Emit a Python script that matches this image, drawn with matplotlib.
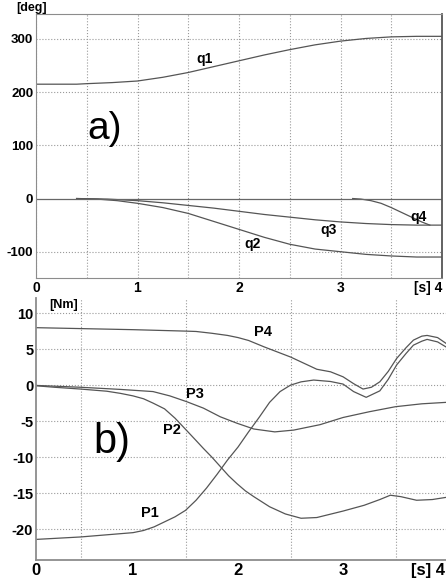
import numpy as np
import matplotlib.pyplot as plt

plt.rcParams['font.family'] = ['Liberation Sans', 'DejaVu Sans']

# --- a) joint angles [deg]
q1_t = [0, 0.4, 0.5, 0.75, 1.0, 1.25, 1.5, 1.75, 2.0, 2.25, 2.5, 2.75, 3.0, 3.25, 3.5, 3.75, 4.0]
q1 = [215, 215, 216, 218, 221, 228, 237, 248, 259, 270, 280, 289, 296, 301, 304, 305, 305]

q2_t = [0.4, 0.6, 0.8, 1.0, 1.25, 1.5, 1.75, 2.0, 2.25, 2.5, 2.75, 3.0, 3.25, 3.5, 3.75, 4.0]
q2 = [0, -1, -4, -9, -17, -28, -43, -58, -73, -86, -95, -100, -105, -108, -110, -110]

q3_t = [0.4, 0.7, 1.0, 1.25, 1.5, 1.75, 2.0, 2.25, 2.5, 2.75, 3.0, 3.25, 3.5, 3.75, 4.0]
q3 = [0, -1, -4, -8, -13, -18, -24, -30, -35, -40, -44, -47, -49, -50, -50]

q4_t = [3.12, 3.2, 3.3, 3.4, 3.5, 3.6, 3.7, 3.8, 3.88]
q4 = [0, -1, -4, -9, -17, -26, -35, -44, -50]

# --- b) torques [Nm]
p1_t = [0, 0.5, 1.0, 1.1, 1.2, 1.3, 1.4, 1.5, 1.6, 1.7, 1.8, 1.9, 2.0, 2.1, 2.2, 2.3, 2.4, 2.5,
        2.6, 2.72, 2.88, 3.0, 3.1, 3.22, 3.35, 3.43, 3.51, 3.6, 3.67, 3.75, 3.8, 3.9, 3.98]
p1 = [-21.5, -21.1, -20.5, -20.2, -19.7, -19.0, -18.3, -17.4, -16.0, -14.3, -12.4, -10.4, -8.6,
      -6.5, -4.5, -2.4, -0.9, 0.0, 0.45, 0.7, 0.5, 0.14, -0.9, -1.7, -0.8, 0.8, 2.8, 4.4, 5.55,
      6.1, 6.35, 6.0, 5.3]

p2_t = [0, 0.25, 0.5, 0.75, 0.88, 1.0, 1.1, 1.19, 1.3, 1.4, 1.51, 1.6, 1.67, 1.75, 1.83, 1.91,
        1.99, 2.07, 2.15, 2.3, 2.45, 2.6, 2.75, 3.0, 3.2, 3.35, 3.45, 3.55, 3.7, 3.85, 3.98]
p2 = [0, -0.3, -0.55, -0.85, -1.15, -1.5, -1.9, -2.5, -3.3, -4.6, -6.3, -7.7, -8.8, -10.0,
      -11.3, -12.6, -13.7, -14.7, -15.5, -16.9, -17.9, -18.5, -18.4, -17.5, -16.7, -15.9,
      -15.3, -15.5, -16.0, -15.9, -15.6]

p3_t = [0, 0.5, 0.88, 1.19, 1.35, 1.51, 1.67, 1.83, 1.99, 2.15, 2.35, 2.53, 2.78, 3.0, 3.25,
        3.5, 3.75, 3.98]
p3 = [0, -0.3, -0.6, -0.9, -1.5, -2.3, -3.2, -4.4, -5.3, -6.1, -6.5, -6.25, -5.5, -4.5, -3.7,
      -3.0, -2.6, -2.4]

p4_t = [0, 0.5, 1.0, 1.5, 1.6, 1.75, 1.9, 2.0, 2.1, 2.25, 2.5, 2.75, 2.88, 3.0, 3.1, 3.19,
        3.27, 3.35, 3.43, 3.51, 3.6, 3.67, 3.75, 3.8, 3.9, 3.98]
p4 = [8.0, 7.85, 7.7, 7.5, 7.45, 7.2, 6.9, 6.6, 6.2, 5.3, 3.9, 2.2, 1.85, 1.15, 0.2, -0.55,
      -0.3, 0.46, 1.9, 3.7, 5.2, 6.25, 6.8, 6.9, 6.6, 5.8]

line_c = '#555555'
grid_c = '#9a9a9a'
spine_c = '#8c8c8c'

fig = plt.figure(figsize=(4.46, 5.8), dpi=100)

# ---------------- top plot
ax1 = fig.add_axes([36/446, 301.7/580, 406/446, 264.3/580])
for t, v in [(q1_t, q1), (q2_t, q2), (q3_t, q3), (q4_t, q4)]:
    ax1.plot(t, v, color=line_c, lw=0.9)
ax1.axhline(0, color='#666666', lw=0.9)
ax1.set_xlim(0, 4)
ax1.set_ylim(-150, 347)
ax1.set_yticks([-100, 0, 100, 200, 300])
ax1.set_yticklabels(['-100', '0', '100', '200', '300'], fontsize=9.5, fontweight='bold')
ax1.set_xticks([0, 1, 2, 3, 4])
ax1.set_xticklabels(['0', '1', '2', '3', '[s] 4'], fontsize=10, fontweight='bold')
ax1.get_xticklabels()[-1].set_horizontalalignment('right')
ax1.set_xticks(np.arange(0.5, 4, 0.5), minor=True)
ax1.tick_params(which='both', length=0, pad=2)
ax1.grid(True, which='both', axis='x', color=grid_c, ls=':', lw=0.8)
for yv in [-100, 100, 200, 300]:
    ax1.axhline(yv, color=grid_c, ls=':', lw=0.8, zorder=0)
for s in ['left', 'bottom', 'top']:
    ax1.spines[s].set_color(spine_c)
ax1.spines['right'].set_color('#555555')
ax1.spines['right'].set_linewidth(1.3)

lab = dict(fontsize=10, fontweight='bold', ha='center', va='center')
ax1.text(1.66, 262, 'q1', **lab)
ax1.text(2.13, -85, 'q2', **lab)
ax1.text(2.88, -60, 'q3', **lab)
ax1.text(3.77, -35, 'q4', **lab)
ax1.text(0.68, 131, 'a)', fontsize=28, ha='center', va='center')
ax1.text(-0.01, 1.0, '[deg]', transform=ax1.transAxes, fontsize=9, fontweight='bold',
         ha='center', va='bottom')

# ---------------- bottom plot
ax2 = fig.add_axes([36/446, 20/580, 410/446, 262/580])
for t, v in [(p1_t, p1), (p2_t, p2), (p3_t, p3), (p4_t, p4)]:
    ax2.plot(t, v, color=line_c, lw=0.9)
x_lo = 0.076
ax2.set_xlim(x_lo, 3.98)
ax2.set_ylim(-24.3, 12.1)
ax2.set_yticks([-20, -15, -10, -5, 0, 5, 10])
ax2.set_yticklabels(['-20', '-15', '-10', '-5', '0', '5', '10'], fontsize=10.5, fontweight='bold')
ax2.set_xticks([x_lo, 1, 2, 3])
ax2.set_xticklabels(['0', '1', '2', '3'], fontsize=12, fontweight='bold')
ax2.set_xticks(np.arange(0.5, 4, 0.5), minor=True)
ax2.tick_params(which='both', length=0, pad=2)
ax2.grid(True, which='minor', axis='x', color=grid_c, ls=':', lw=0.8)
ax2.grid(True, which='major', axis='y', color=grid_c, ls=':', lw=0.8)
for s in ['top', 'right']:
    ax2.spines[s].set_visible(False)
for s in ['left', 'bottom']:
    ax2.spines[s].set_color(spine_c)
    ax2.spines[s].set_linewidth(1.3)
ax2.text(0.998, -0.01, '[s] 4', transform=ax2.transAxes, fontsize=12,
         fontweight='bold', ha='right', va='top')

lab2 = dict(fontsize=10.5, fontweight='bold', ha='center', va='center')
ax2.text(2.24, 7.4, 'P4', **lab2)
ax2.text(1.59, -1.3, 'P3', **lab2)
ax2.text(1.37, -6.25, 'P2', **lab2)
ax2.text(1.16, -17.8, 'P1', **lab2)
ax2.text(0.8, -7.9, 'b)', fontsize=30, ha='center', va='center')
ax2.text(0.34, 11.1, '[Nm]', fontsize=9, fontweight='bold', ha='center', va='center')

fig.savefig('out.png', dpi=100)
